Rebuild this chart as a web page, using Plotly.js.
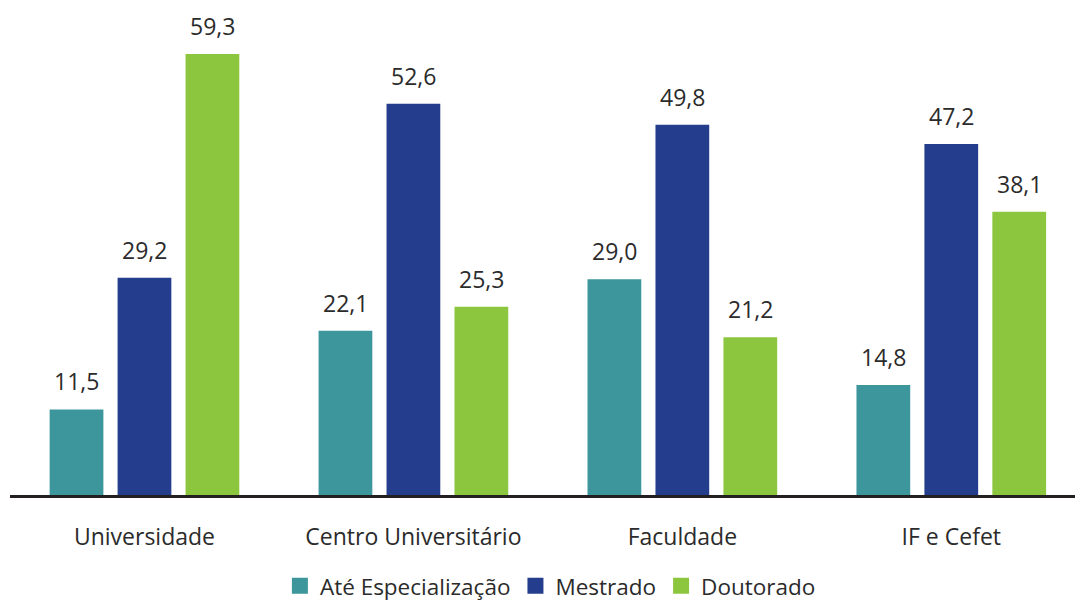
<!DOCTYPE html>
<html>
<head>
<meta charset="utf-8">
<script src="https://cdn.plot.ly/plotly-3.0.1.min.js"></script>
<style>html,body{margin:0;padding:0;background:#fff;}#chart{width:1075px;height:602px;}</style>
</head>
<body>
<div id="chart"></div>
<script>
const categories = ["Universidade", "Centro Universitário", "Faculdade", "IF e Cefet"];
const seriesNames = ["Até Especialização", "Mestrado", "Doutorado"];
const ateEspecializacao = [11.5, 22.1, 29.0, 14.8];
const mestrado = [29.2, 52.6, 49.8, 47.2];
const doutorado = [59.3, 25.3, 21.2, 38.1];
const colors = ["#3D969B", "#243D8C", "#8CC63F"];

const seriesValues = [ateEspecializacao, mestrado, doutorado];
const fmt = v => v.toFixed(1).replace('.', ',');
const font = "'Open Sans', sans-serif";

const traces = seriesValues.map((vals, i) => ({
  type: 'bar',
  name: seriesNames[i],
  x: categories,
  y: vals,
  marker: {color: colors[i]},
  showlegend: false,
  hoverinfo: 'none'
}));
seriesValues.forEach((vals, i) => {
  traces.push({
    type: 'scatter', mode: 'markers', name: seriesNames[i],
    x: [null], y: [null],
    marker: {symbol: 'square', size: 16, color: colors[i]},
    showlegend: true, hoverinfo: 'none'
  });
});

const offsets = [-68, 0, 68];
const annotations = [];
seriesValues.forEach((vals, i) => {
  vals.forEach((v, j) => {
    annotations.push({
      x: categories[j], y: v, xref: 'x', yref: 'y',
      text: fmt(v), showarrow: false,
      xshift: offsets[i], yanchor: 'bottom', yshift: 10,
      font: {family: font, size: 23, color: '#2b2b2b'}
    });
  });
});

const layout = {
  width: 1075, height: 602,
  margin: {l: 10, r: 0, t: 0, b: 107, autoexpand: false},
  paper_bgcolor: '#fff', plot_bgcolor: '#fff',
  barmode: 'group', bargap: 0.242, bargroupgap: 0.209,
  showlegend: true,
  legend: {orientation: 'h', x: 0.512, xref: 'container', xanchor: 'center', y: 0.062, yref: 'container', yanchor: 'top',
           font: {family: font, size: 22.5, color: '#2b2b2b'}, itemclick: false, traceorder: 'normal',
           itemwidth: 20, tracegroupgap: 0},
  xaxis: {range: [-0.5, 3.46], showline: true, linecolor: '#231f20', linewidth: 3,
          ticks: 'outside', ticklen: 19, tickcolor: 'rgba(0,0,0,0)', automargin: false,
          tickfont: {family: font, size: 23, color: '#2b2b2b'}, showgrid: false, zeroline: false},
  yaxis: {range: [0, 66.56], visible: false, showgrid: false, zeroline: false},
  annotations: annotations
};

Plotly.newPlot('chart', traces, layout, {displayModeBar: false, staticPlot: true});
</script>
</body>
</html>
